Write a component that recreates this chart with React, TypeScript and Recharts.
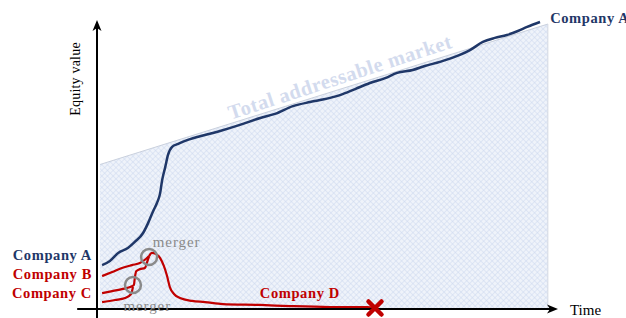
import { ComposedChart, Area, Line, XAxis, YAxis, ReferenceLine, ReferenceDot } from 'recharts';

const NAVY = '#1f3768';
const RED = '#c00000';
const GREY = '#8a8a8a';
const SERIF = "'Liberation Serif', 'DejaVu Serif', serif";

// t: position along the time axis (0-100), v: equity value (0-100)
const marketT = [0.65, 97.8];
const marketV = [50, 98.6];

const companyAT = [1.1, 2.8, 4.6, 6.7, 8.2, 10.0, 11.1, 12.1, 13.0, 13.7, 14.1, 14.8, 15.4, 16.3, 17.6, 19.7, 23.4, 26.7, 31.0, 35.4, 38.6, 42.5, 46.2, 48.4, 52.7, 56.0, 59.2, 62.5, 65.1, 68.5, 71.1, 74.4, 78.7, 80.9, 83.7, 86.3, 88.9, 91.3, 93.3, 96.1];
const companyAV = [15.2, 16.6, 19.4, 21.1, 23.2, 26.3, 29.8, 33.6, 36.7, 40.1, 44.3, 49.1, 53.3, 56.1, 57.1, 58.5, 60.2, 61.6, 63.7, 66.1, 67.5, 70.2, 71.6, 72.3, 74.0, 76.1, 78.2, 79.9, 81.7, 82.7, 84.1, 85.5, 87.9, 89.6, 92.4, 93.8, 94.8, 96.2, 97.6, 99.3];

const companyBT = [1.1, 3.3, 5.4, 7.6, 9.3, 10.6, 11.3];
const companyBV = [11.4, 12.8, 14.2, 15.2, 15.9, 17.3, 18.3];

const companyCT = [1.1, 3.3, 5.4, 7.2, 8.0, 8.2, 8.5, 9.3, 10.4, 10.8, 11.3];
const companyCV = [5.5, 6.2, 6.9, 7.6, 8.3, 10.7, 13.1, 13.8, 14.2, 15.9, 18.3];

const smallT = [1.1, 3.9, 6.1, 7.4, 7.8];
const smallV = [2.4, 3.1, 3.8, 5.2, 7.6];

const companyDT = [11.3, 11.9, 12.8, 13.7, 14.5, 15.2, 15.8, 16.7, 18.0, 20.6, 23.4, 27.3, 35.4, 41.9, 50.5, 58.6, 60.3];
const companyDV = [18.3, 19.4, 19.0, 17.6, 14.9, 11.4, 7.6, 5.2, 3.8, 2.8, 2.4, 1.7, 1.4, 1.0, 0.7, 0.7, 0.35];

const mergers = [
  { t: 11.3, v: 18.0 },
  { t: 7.8, v: 8.3 },
];
const failure = { t: 60.3, v: 0.35 };

const toPoints = (ts: number[], vs: number[]) => ts.map((t, i) => ({ t, v: vs[i] }));

const Arrow = (props: any) => {
  const { x1, y1, x2, y2 } = props;
  const a = Math.atan2(y2 - y1, x2 - x1);
  const len = 11;
  const half = 4.5;
  const bx = x2 - len * Math.cos(a);
  const by = y2 - len * Math.sin(a);
  const nx = x2 - (len - 3) * Math.cos(a);
  const ny = y2 - (len - 3) * Math.sin(a);
  const px = -Math.sin(a) * half;
  const py = Math.cos(a) * half;
  return (
    <g>
      <line x1={x1} y1={y1} x2={nx} y2={ny} stroke="#000" strokeWidth={2} />
      <polygon points={`${x2},${y2} ${bx + px},${by + py} ${nx},${ny} ${bx - px},${by - py}`} fill="#000" />
    </g>
  );
};

const note = (text: string, style: any, rotate = 0) => (p: any) => (
  <text
    x={p.cx}
    y={p.cy}
    transform={rotate ? `rotate(${rotate} ${p.cx} ${p.cy})` : undefined}
    dominantBaseline="central"
    textAnchor={style.anchor}
    style={{ fontFamily: SERIF, fontSize: style.size, fontWeight: style.weight ?? 'normal', fill: style.fill, letterSpacing: style.spacing ?? 0 }}
  >
    {text}
  </text>
);

const labels = [
  { t: -1.1, v: 18.7, text: 'Company A', style: { anchor: 'end', fill: NAVY, weight: 'bold', size: 14.5, spacing: 0.6 } },
  { t: -1.1, v: 12.1, text: 'Company B', style: { anchor: 'end', fill: RED, weight: 'bold', size: 14.5, spacing: 0.6 } },
  { t: -1.1, v: 5.5, text: 'Company C', style: { anchor: 'end', fill: RED, weight: 'bold', size: 14.5, spacing: 0.6 } },
  { t: 98.3, v: 100.7, text: 'Company A', style: { anchor: 'start', fill: NAVY, weight: 'bold', size: 14.5, spacing: 0.6 } },
  { t: 44.0, v: 5.5, text: 'Company D', style: { anchor: 'middle', fill: RED, weight: 'bold', size: 14.5, spacing: 0.6 } },
  { t: 12.1, v: 23.2, text: 'merger', style: { anchor: 'start', fill: GREY, size: 15, spacing: 0.9 } },
  { t: 10.9, v: 1.2, text: 'merger', style: { anchor: 'middle', fill: GREY, size: 15, spacing: 0.9 } },
  { t: 102.6, v: -0.3, text: 'Time', style: { anchor: 'start', fill: '#000', size: 15 } },
];

const Cross = (p: any) => {
  const s = 6.5;
  return (
    <g stroke={RED} strokeWidth={4.5} strokeLinecap="round">
      <line x1={p.cx - s} y1={p.cy - s} x2={p.cx + s} y2={p.cy + s} />
      <line x1={p.cx - s} y1={p.cy + s} x2={p.cx + s} y2={p.cy - s} />
    </g>
  );
};

export default function App() {
  return (
    <div style={{ position: 'absolute', left: 0, top: 0, width: 626, height: 318, background: '#fff' }}>
      <ComposedChart width={626} height={318} margin={{ top: 20, right: 68, bottom: 9, left: 97 }}>
        <defs>
          <pattern id="tam" width="4" height="4" patternUnits="userSpaceOnUse" patternTransform="rotate(45)">
            <rect width="4" height="4" fill="#eff3fa" />
            <path d="M0 0 H4 M0 0 V4" stroke="#cbd7ee" strokeWidth="1" />
          </pattern>
        </defs>
        <XAxis type="number" dataKey="t" domain={[0, 100]} allowDataOverflow hide />
        <YAxis type="number" dataKey="v" domain={[0, 100]} allowDataOverflow hide />
        <Area
          data={toPoints(marketT, marketV)}
          dataKey="v"
          type="linear"
          fill="url(#tam)"
          fillOpacity={1}
          stroke="#c9d0dd"
          strokeWidth={1}
          isAnimationActive={false}
          dot={false}
          activeDot={false}
        />
        <ReferenceLine
          segment={[{ x: marketT[1], y: 0 }, { x: marketT[1], y: marketV[1] }]}
          stroke="#d3d8e3"
          strokeWidth={1}
        />
        <ReferenceDot
          x={52.7}
          y={80.3}
          r={1}
          ifOverflow="visible"
          shape={note('Total addressable market', { anchor: 'middle', fill: '#d3dbee', weight: 'bold', size: 20.5, spacing: 0.5 }, -18)}
        />
        <Line data={toPoints(companyAT, companyAV)} dataKey="v" type="monotone" stroke={NAVY} strokeWidth={2.5} dot={false} activeDot={false} isAnimationActive={false} />
        <Line data={toPoints(smallT, smallV)} dataKey="v" type="monotone" stroke={RED} strokeWidth={2.2} dot={false} activeDot={false} isAnimationActive={false} />
        <Line data={toPoints(companyCT, companyCV)} dataKey="v" type="monotone" stroke={RED} strokeWidth={2.2} dot={false} activeDot={false} isAnimationActive={false} />
        <Line data={toPoints(companyBT, companyBV)} dataKey="v" type="monotone" stroke={RED} strokeWidth={2.2} dot={false} activeDot={false} isAnimationActive={false} />
        <Line data={toPoints(companyDT, companyDV)} dataKey="v" type="monotone" stroke={RED} strokeWidth={2.2} dot={false} activeDot={false} isAnimationActive={false} />
        {mergers.map((m, i) => (
          <ReferenceDot key={i} x={m.t} y={m.v} r={8} fill="none" stroke={GREY} strokeWidth={2.5} ifOverflow="visible" />
        ))}
        {labels.map((l, i) => (
          <ReferenceDot key={`l${i}`} x={l.t} y={l.v} r={1} ifOverflow="visible" shape={note(l.text, l.style)} />
        ))}
        <ReferenceLine segment={[{ x: -4.3, y: 0 }, { x: 100, y: 0 }]} ifOverflow="visible" shape={Arrow} />
        <ReferenceLine segment={[{ x: 0, y: -3.1 }, { x: 0, y: 100 }]} ifOverflow="visible" shape={Arrow} />
        <ReferenceDot x={failure.t} y={failure.v} r={1} ifOverflow="visible" shape={Cross} />
        <ReferenceDot
          x={-4.6}
          y={79.6}
          r={1}
          ifOverflow="visible"
          shape={note('Equity value', { anchor: 'middle', fill: '#000', size: 14, spacing: 0.2 }, -90)}
        />
      </ComposedChart>
    </div>
  );
}
